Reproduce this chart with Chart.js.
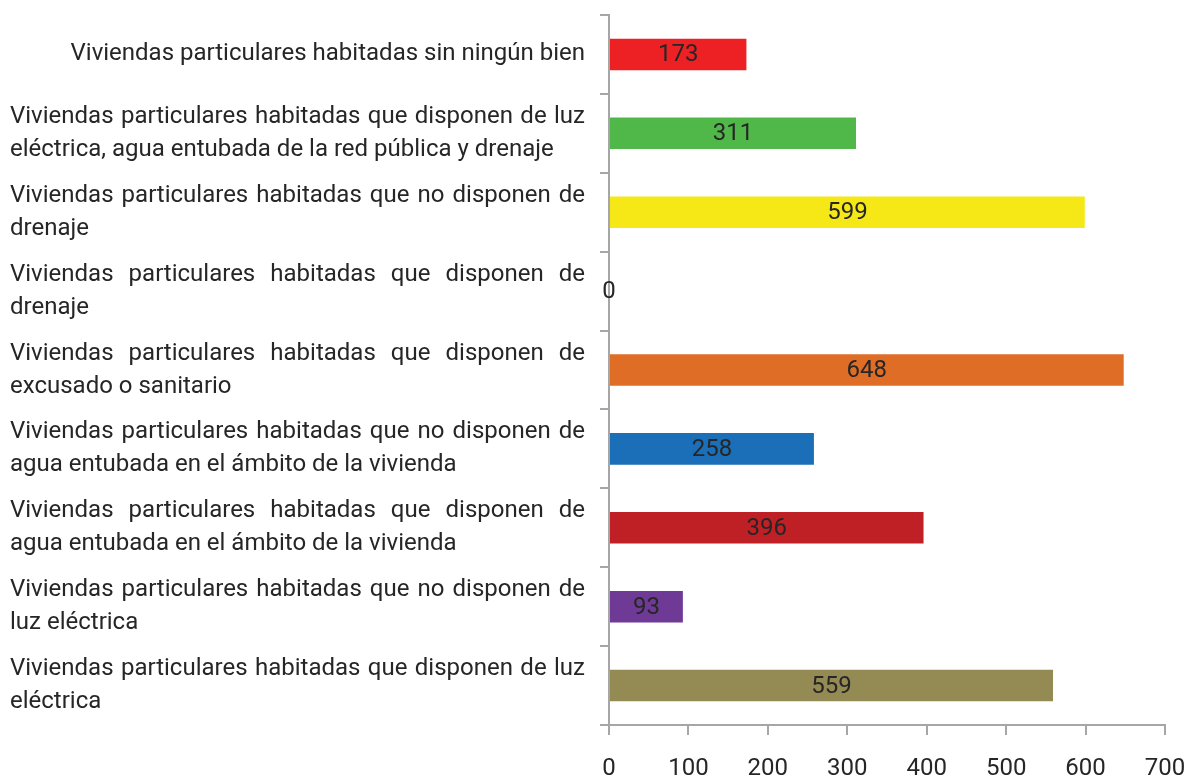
<!DOCTYPE html>
<html>
<head>
<meta charset="utf-8">
<script src="https://cdn.jsdelivr.net/npm/chart.js@4.4.1/dist/chart.umd.min.js"></script>
<style>
  html, body { margin: 0; padding: 0; background: #fff; }
  #wrap { width: 1189px; height: 777px; }
</style>
</head>
<body>
<div id="wrap"><canvas id="myChart" width="1189" height="777"></canvas></div>
<script>
const categorias = [
  ["Viviendas particulares habitadas sin ningún bien"],
  ["Viviendas particulares habitadas que disponen de luz", "eléctrica, agua entubada de la red pública y drenaje"],
  ["Viviendas particulares habitadas que no disponen de", "drenaje"],
  ["Viviendas particulares habitadas que disponen de", "drenaje"],
  ["Viviendas particulares habitadas que disponen de", "excusado o sanitario"],
  ["Viviendas particulares habitadas que no disponen de", "agua entubada en el ámbito de la vivienda"],
  ["Viviendas particulares habitadas que disponen de", "agua entubada en el ámbito de la vivienda"],
  ["Viviendas particulares habitadas que no disponen de", "luz eléctrica"],
  ["Viviendas particulares habitadas que disponen de luz", "eléctrica"],
];
const valores = [173, 311, 599, 0, 648, 258, 396, 93, 559];
const colores = ["#ED2024", "#50B848", "#F5E816", "#4BACC6", "#E06D26", "#1B6FB8", "#BF2026", "#6F3996", "#948A54"];
const ticksX = [0, 100, 200, 300, 400, 500, 600, 700];

const fuente = "'Liberation Sans Narrow', 'Roboto', sans-serif";
const ctx = document.getElementById("myChart");

// etiquetas del eje Y justificadas como en Excel
const etiquetasY = {
  id: "etiquetasY",
  afterDraw(chart) {
    const c = chart.ctx;
    const y = chart.scales.y;
    const izq = 10, der = 585, alto = 33;
    c.save();
    c.font = "24px " + fuente;
    c.fillStyle = "#262626";
    c.textBaseline = "middle";
    categorias.forEach((lineas, i) => {
      const yc = y.getPixelForValue(i);
      const y0 = yc - (lineas.length - 1) * alto / 2;
      lineas.forEach((txt, j) => {
        const yy = y0 + j * alto;
        if (lineas.length === 1) {
          c.textAlign = "right";
          c.fillText(txt, der, yy);
        } else if (j === lineas.length - 1) {
          c.textAlign = "left";
          c.fillText(txt, izq, yy);
        } else {
          const palabras = txt.split(" ");
          let ancho = 0;
          palabras.forEach((p) => (ancho += c.measureText(p).width));
          const hueco = (der - izq - ancho) / (palabras.length - 1);
          let x = izq;
          c.textAlign = "left";
          palabras.forEach((p) => {
            c.fillText(p, x, yy);
            x += c.measureText(p).width + hueco;
          });
        }
      });
    });
    c.restore();
  },
};

const valoresBarras = {
  id: "valoresBarras",
  afterDatasetsDraw(chart) {
    const c = chart.ctx;
    const meta = chart.getDatasetMeta(0);
    c.save();
    c.font = "24px " + fuente;
    c.fillStyle = "#262626";
    c.textAlign = "center";
    c.textBaseline = "middle";
    meta.data.forEach((bar, i) => {
      const x = (bar.x + bar.base) / 2;
      c.fillText(String(valores[i]), x, bar.y + 1);
    });
    c.restore();
  },
};

new Chart(ctx, {
  type: "bar",
  data: {
    labels: categorias.map((l) => l.join(" ")),
    datasets: [
      {
        data: valores,
        backgroundColor: colores,
        borderWidth: 0,
        categoryPercentage: 1,
        barPercentage: 0.4,
      },
    ],
  },
  options: {
    indexAxis: "y",
    responsive: false,
    animation: false,
    layout: { padding: { top: 15, right: 0, left: 0, bottom: 0 } },
    plugins: {
      legend: { display: false },
      tooltip: { enabled: false },
    },
    scales: {
      x: {
        min: 0,
        max: 700,
        afterBuildTicks: (s) => { s.ticks = ticksX.map((v) => ({ value: v })); },
        afterFit: (s) => { s.height = 52; s.paddingRight = 24; s.paddingLeft = 0; },
        grid: { drawOnChartArea: false, tickLength: 10, color: "#a6a6a6", lineWidth: 2 },
        border: { color: "#a6a6a6", width: 2 },
        ticks: { font: { family: fuente, size: 24 }, color: "#262626", padding: 20, maxRotation: 0 },
      },
      y: {
        afterFit: (s) => { s.width = 609; },
        grid: { offset: true, drawOnChartArea: false, tickLength: 9, color: "#a6a6a6", lineWidth: 2 },
        border: { color: "#a6a6a6", width: 2 },
        ticks: { display: false },
      },
    },
  },
  plugins: [etiquetasY, valoresBarras],
});
</script>
</body>
</html>
